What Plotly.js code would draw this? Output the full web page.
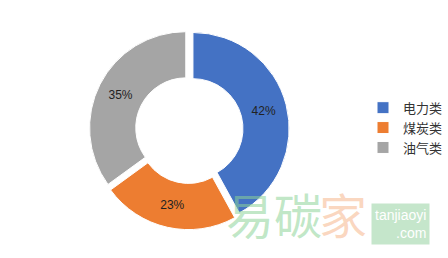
<!DOCTYPE html>
<html>
<head>
<meta charset="utf-8">
<script src="https://cdn.plot.ly/plotly-3.0.1.min.js"></script>
<style>
  html, body { margin: 0; padding: 0; background: #fff; }
  #chart { width: 448px; height: 258px; }
</style>
</head>
<body>
<div id="chart"></div>
<script>
// Energy-type shares
const categories = ['电力类', '煤炭类', '油气类'];
const shares = [42, 23, 35];
const sliceColors = ['#4472C4', '#ED7D31', '#A5A5A5'];

const trace = {
  type: 'pie',
  labels: categories,
  values: shares,
  hole: 0.52,
  sort: false,
  direction: 'clockwise',
  rotation: 0,
  pull: [0.04, 0.04, 0.04],
  marker: { colors: sliceColors, line: { color: '#ffffff', width: 1 } },
  textinfo: 'percent',
  texttemplate: '%{percent:.0%}',
  textposition: 'inside',
  insidetextorientation: 'horizontal',
  textfont: { family: 'Liberation Sans, Arial, sans-serif', size: 12, color: '#222' },
  hoverinfo: 'label+percent',
  domain: { x: [0.205, 0.665], y: [0.1, 0.895] }
};

const layout = {
  width: 448,
  height: 258,
  margin: { l: 0, r: 0, t: 0, b: 0 },
  paper_bgcolor: '#ffffff',
  showlegend: true,
  legend: {
    x: 0.835, y: 0.505, xanchor: 'left', yanchor: 'middle',
    font: { family: 'Noto Sans CJK SC, sans-serif', size: 13, color: '#333' },
    itemwidth: 30,
    tracegroupgap: 0
  },
  annotations: [
    { text: '易碳', x: 0.515, y: 0.03, xref: 'paper', yref: 'paper', xanchor: 'left', yanchor: 'bottom',
      showarrow: false, font: { family: 'Noto Sans CJK SC, sans-serif', size: 48, color: 'rgba(140,210,150,0.55)' } },
      { text: '家', x: 0.728, y: 0.03, xref: 'paper', yref: 'paper', xanchor: 'left', yanchor: 'bottom',
      showarrow: false, font: { family: 'Noto Sans CJK SC, sans-serif', size: 48, color: 'rgba(245,175,130,0.5)' } },
    { text: 'tanjiaoyi<br>  .com', x: 0.988, y: 0.05, xref: 'paper', yref: 'paper', xanchor: 'right', yanchor: 'bottom',
      showarrow: false, align: 'right', bgcolor: 'rgba(150,210,160,0.55)', borderpad: 3,
      font: { family: 'Liberation Sans, Arial, sans-serif', size: 14, color: '#ffffff' } }
  ]
};

Plotly.newPlot('chart', [trace], layout, { displayModeBar: false, staticPlot: true });
</script>
</body>
</html>
